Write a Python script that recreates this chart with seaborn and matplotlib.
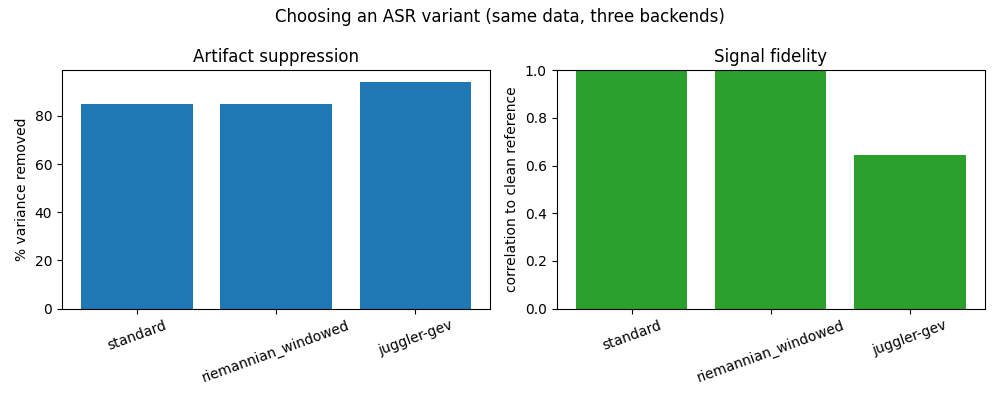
import matplotlib
matplotlib.use("Agg")
import matplotlib.pyplot as plt
import seaborn as sns
import pandas as pd

variants = ["standard", "riemannian_windowed", "juggler-gev"]
variance_removed = [85.1, 85.0, 94.2]
correlation = [0.999, 0.998, 0.645]

df = pd.DataFrame({"variant": variants, "removed": variance_removed, "corr": correlation})

fig, axes = plt.subplots(1, 2, figsize=(10, 4), dpi=100)

sns.barplot(data=df, x="variant", y="removed", color="#1f77b4", saturation=1, ax=axes[0], width=0.8)
axes[0].set_title("Artifact suppression")
axes[0].set_ylabel("% variance removed")
axes[0].set_xlabel("")

sns.barplot(data=df, x="variant", y="corr", color="#2ca02c", saturation=1, ax=axes[1], width=0.8)
axes[1].set_title("Signal fidelity")
axes[1].set_ylabel("correlation to clean reference")
axes[1].set_xlabel("")
axes[1].set_ylim(0, 1.0)

for ax in axes:
    ax.tick_params(axis="x", rotation=20)
    ax.set_xlim(-0.54, 2.54)

fig.suptitle("Choosing an ASR variant (same data, three backends)")
fig.tight_layout()
fig.savefig("out.png")
